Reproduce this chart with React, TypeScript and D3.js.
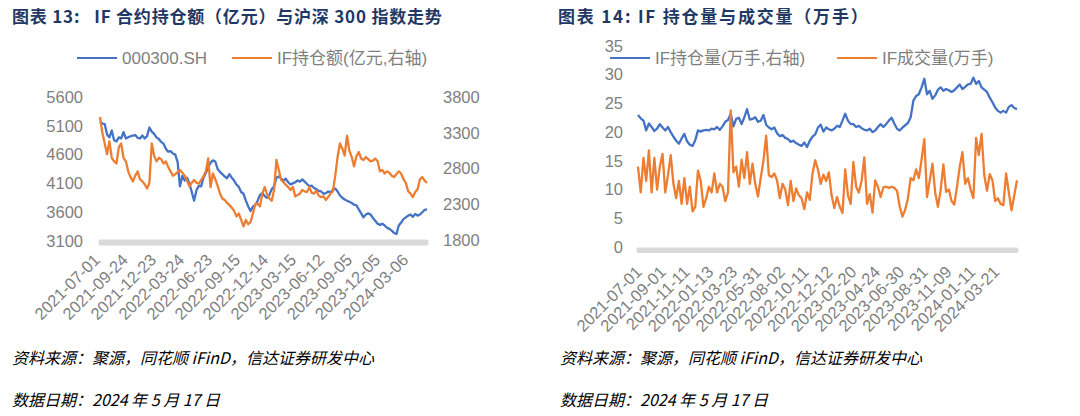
import React from 'react';
import * as d3 from 'd3';

// ---------- DATA ----------
// Chart 13: CSI 300 index (left axis) and IF open-interest value (亿元, right axis), sampled evenly over 2021-07-01 .. 2024-05-17
const hs300: number[] = [
  5170, 5140, 5130, 4950, 4900, 5020, 4850, 4830, 4900, 4880,
  4990, 4880, 4900, 4920, 4930, 4940, 4890, 4880, 4930, 4880,
  4920, 5070, 5000, 4960, 4900, 4870, 4820, 4790, 4700, 4650,
  4660, 4620, 4600, 4470, 4050, 4230, 4150, 4200, 4100, 3950,
  3800, 3980, 4060, 4050, 4200, 4280, 4380, 4460, 4500, 4480,
  4350, 4300, 4260, 4220, 4190, 4260, 4200, 4150, 4080, 4040,
  3950, 3920, 3800, 3700, 3620, 3700, 3720, 3800, 3900, 3930,
  3880, 3850, 3900, 4000, 4050, 4200, 4220, 4180, 4150, 4180,
  4120, 4080, 4100, 4120, 4150, 4130, 4170, 4130, 4090, 4050,
  4060, 4020, 4000, 3970, 3960, 3920, 3930, 3960, 3940, 3990,
  4010, 3960, 3890, 3850, 3820, 3800, 3780, 3760, 3730, 3720,
  3650, 3580, 3510, 3560, 3580, 3560, 3500, 3450, 3400, 3380,
  3400, 3370, 3330, 3310, 3280, 3240, 3220, 3370, 3420, 3480,
  3510, 3540, 3560, 3520, 3570, 3540, 3560, 3600, 3640, 3650,
];
const ifOiValue: number[] = [
  3520, 3300, 3150, 3000, 3180, 2950, 2900, 2870, 3100, 3150,
  2950, 2900, 2760, 2680, 2620, 2700, 2760, 2650, 2620, 2580,
  2520, 2600, 3150, 2980, 2900, 2950, 2930, 2870, 2900, 2820,
  2760, 2700, 2720, 2750, 2780, 2740, 2700, 2630, 2550, 2600,
  2640, 2600, 2590, 2640, 2690, 2760, 2940, 2540, 2730, 2650,
  2560, 2450, 2380, 2360, 2320, 2290, 2250, 2210, 2130, 2170,
  2080, 1990, 2080, 2020, 2050, 2170, 2300, 2310, 2270, 2450,
  2540, 2440, 2380, 2350, 2500, 2920, 2780, 2640, 2610, 2570,
  2540, 2500, 2540, 2410, 2430, 2450, 2500, 2480, 2470, 2540,
  2460, 2450, 2490, 2420, 2400, 2410, 2360, 2400, 2450, 2480,
  2700, 2960, 3150, 3080, 2980, 3260, 3050, 2960, 2830, 2970,
  3030, 2940, 2920, 2960, 2930, 2900, 2910, 2940, 2900, 2760,
  2780, 2730, 2760, 2740, 2700, 2680, 2720, 2760, 2730, 2650,
  2600, 2480, 2450, 2400, 2470, 2510, 2650, 2680, 2630, 2600,
];
// Chart 14: IF open interest and volume (万手)
const ifOi: number[] = [
  23.0, 22.4, 22.0, 20.3, 21.5, 20.9, 20.2, 20.6, 21.4, 20.8,
  20.3, 20.9, 20.0, 19.2, 18.5, 18.0, 18.9, 19.7, 18.4, 17.8,
  17.6, 18.6, 20.3, 20.1, 20.3, 20.4, 20.3, 20.6, 20.5, 20.9,
  20.4, 21.0, 21.8, 22.1, 23.2, 21.0, 22.3, 22.5, 21.4, 22.6,
  24.0, 22.2, 22.3, 22.6, 21.8, 22.0, 23.0, 21.3, 20.8, 20.5,
  20.8, 19.8, 19.3, 19.5, 19.0, 18.8, 18.3, 18.5, 18.1, 17.8,
  17.6, 18.2, 17.4, 18.5, 19.2, 19.6, 20.8, 21.3, 20.1, 20.8,
  20.5, 20.3, 20.6, 21.1, 20.9, 22.0, 23.2, 22.0, 21.4, 21.4,
  20.9, 21.1, 20.7, 20.4, 20.3, 20.6, 20.0, 20.3, 20.9, 21.4,
  20.9, 21.4, 22.0, 22.5, 21.5, 20.6, 20.3, 20.8, 21.2, 21.6,
  22.6, 25.5, 26.3, 26.6, 27.8, 29.3, 26.6, 27.2, 25.8, 26.4,
  27.4, 27.8, 27.2, 27.5, 27.3, 27.0, 27.3, 27.8, 28.3, 27.5,
  27.9, 28.3, 28.4, 29.5, 28.4, 28.9, 27.8, 27.4, 27.0, 26.0,
  25.2, 24.3, 23.7, 23.4, 23.7, 23.4, 24.4, 24.7, 24.2, 24.0,
];
const ifVolume: number[] = [
  14.0, 9.5, 15.5, 11.5, 16.8, 9.5, 15.5, 10.0, 14.0, 16.2,
  9.5, 12.5, 16.0, 11.0, 8.5, 11.5, 7.5, 12.0, 7.5, 10.5,
  6.2, 7.0, 13.3, 11.5, 7.0, 8.5, 10.5, 9.5, 12.8, 9.5,
  11.0, 10.5, 8.0, 9.5, 23.8, 13.0, 14.0, 10.5, 15.2, 12.0,
  16.5, 11.0, 14.5, 11.0, 8.8, 12.0, 15.0, 19.4, 12.5, 12.2,
  12.8, 11.6, 8.5, 11.0, 10.0, 7.3, 11.5, 8.0, 10.2, 9.0,
  8.5, 6.6, 9.5, 8.2, 12.8, 15.1, 13.5, 11.0, 12.6, 11.5,
  13.0, 9.0, 6.8, 8.7, 7.0, 5.9, 13.5, 9.0, 7.5, 14.8,
  10.5, 9.5, 11.5, 15.6, 7.5, 9.2, 6.0, 11.6, 10.5, 8.7,
  10.4, 10.5, 10.3, 10.5, 10.3, 9.8, 7.0, 5.3, 6.5, 8.5,
  12.0, 11.6, 13.5, 12.0, 15.2, 18.8, 8.7, 11.6, 14.5, 9.5,
  7.0, 9.9, 14.4, 9.6, 10.0, 8.0, 7.4, 10.5, 14.0, 16.5,
  11.0, 12.0, 10.0, 8.5, 19.0, 16.0, 19.7, 12.5, 9.8, 12.7,
  11.6, 8.0, 8.5, 7.5, 7.3, 12.8, 9.5, 6.4, 9.0, 11.6,
];

const chart1Dates: string[] = [
  '2021-07-01', '2021-09-24', '2021-12-23', '2022-03-24', '2022-06-23', '2022-09-15',
  '2022-12-14', '2023-03-15', '2023-06-12', '2023-09-05', '2023-12-05', '2024-03-06',
];
const chart2Dates: string[] = [
  '2021-07-01', '2021-09-01', '2021-11-11', '2022-01-13', '2022-03-23', '2022-05-31',
  '2022-08-02', '2022-10-11', '2022-12-12', '2023-02-20', '2023-04-24', '2023-06-30',
  '2023-08-31', '2023-11-09', '2024-01-11', '2024-03-21',
];
const chart1Left: number[] = [3100, 3600, 4100, 4600, 5100, 5600];
const chart1Right: number[] = [1800, 2300, 2800, 3300, 3800];
const chart2Left: number[] = [0, 5, 10, 15, 20, 25, 30, 35];

const TOTAL_DAYS = 700; // trading days covered
const chart1TickStep = 60; // trading days between labels
const chart2TickStep = 44;

// ---------- STYLE ----------
const BLUE = '#4472C4';
const ORANGE = '#ED7D31';
const AXIS_TEXT = '#7F7F7F';
const TITLE = '#1F3864';
const BAND = '#D9D9D9';
const LATIN = "'Liberation Sans', Arial, 'Noto Sans CJK SC', sans-serif";
const CJK = "'Noto Sans CJK SC', 'Liberation Sans', sans-serif";
const NB = '\u00A0';

const dayOf = (i: number, n: number) => (i * TOTAL_DAYS) / (n - 1);

function linePath(values: number[], x: d3.ScaleLinear<number, number>, y: d3.ScaleLinear<number, number>) {
  const gen = d3
    .line<number>()
    .x((_, i) => x(dayOf(i, values.length)))
    .y((v) => y(v));
  return gen(values) || '';
}

function Legend({ x, y, items }: { x: number[]; y: number; items: { label: string; color: string }[] }) {
  return (
    <g>
      {items.map((it, k) => (
        <g key={k}>
          <line x1={x[k]} x2={x[k] + 40} y1={y} y2={y} stroke={it.color} strokeWidth={2} />
          <text x={x[k] + 45} y={y} dy="0.35em" fontSize={17} fill={AXIS_TEXT} fontFamily={LATIN}>
            {it.label}
          </text>
        </g>
      ))}
    </g>
  );
}

function Footer({ x }: { x: number }) {
  return (
    <g fontFamily={CJK} fontStyle="italic" fill="#000" fontSize={16}>
      <text x={x} y={358} dy="0.35em">资料来源：聚源，同花顺 iFinD，信达证券研发中心</text>
      <text x={x} y={400} dy="0.35em">数据日期：2024 年 5 月 17 日</text>
    </g>
  );
}

function Chart13() {
  const x = d3.scaleLinear().domain([0, TOTAL_DAYS]).range([100, 427]);
  const yL = d3.scaleLinear().domain([3100, 5600]).range([241, 97]);
  const yR = d3.scaleLinear().domain([1800, 3800]).range([240, 97]);
  const base = yL(3100);
  return (
    <g>
      <text x={12} y={17} dy="0.35em" fontFamily={CJK} fontWeight="bold" fontSize={17} letterSpacing={0.8} fill={TITLE}>
        {`图表 13:${NB}${NB}${NB}IF 合约持仓额（亿元）与沪深 300 指数走势`}
      </text>
      <Legend
        x={[77, 232]}
        y={58}
        items={[
          { label: '000300.SH', color: BLUE },
          { label: 'IF持仓额(亿元,右轴)', color: ORANGE },
        ]}
      />
      {chart1Left.map((v) => (
        <text key={v} x={83} y={yL(v)} dy="0.35em" textAnchor="end" fontSize={16.5} fill={AXIS_TEXT} fontFamily={LATIN}>
          {v}
        </text>
      ))}
      {chart1Right.map((v) => (
        <text key={v} x={443} y={yR(v)} dy="0.35em" textAnchor="start" fontSize={16.5} fill={AXIS_TEXT} fontFamily={LATIN}>
          {v}
        </text>
      ))}
      <rect x={x(0) - 1.5} y={base - 1.5} width={x(TOTAL_DAYS) - x(0) + 3} height={6} rx={2} fill={BAND} />
      <path d={linePath(hs300, x, yL)} fill="none" stroke={BLUE} strokeWidth={2.3} strokeLinejoin="round" />
      <path d={linePath(ifOiValue, x, yR)} fill="none" stroke={ORANGE} strokeWidth={2.3} strokeLinejoin="round" />
      {chart1Dates.map((d, k) => {
        const tx = x(k * chart1TickStep) - 3;
        const ty = base + 16;
        return (
          <text key={d} x={tx} y={ty} dy="0.35em" textAnchor="end" transform={`rotate(-45 ${tx} ${ty})`} fontSize={16.5} fill={AXIS_TEXT} fontFamily={LATIN}>
            {d}
          </text>
        );
      })}
      <Footer x={12} />
    </g>
  );
}

function Chart14() {
  const x = d3.scaleLinear().domain([0, TOTAL_DAYS]).range([638, 1017]);
  const y = d3.scaleLinear().domain([0, 35]).range([247, 46]);
  const base = y(0);
  return (
    <g>
      <text x={558} y={17} dy="0.35em" fontFamily={CJK} fontWeight="bold" fontSize={17} letterSpacing={1.8} fill={TITLE}>
        {`图表 14:${NB}IF 持仓量与成交量（万手）`}
      </text>
      {chart2Left.map((v) => (
        <text key={v} x={623} y={y(v)} dy="0.35em" textAnchor="end" fontSize={16.5} fill={AXIS_TEXT} fontFamily={LATIN}>
          {v}
        </text>
      ))}
      <Legend
        x={[610, 837]}
        y={58}
        items={[
          { label: 'IF持仓量(万手,右轴)', color: BLUE },
          { label: 'IF成交量(万手)', color: ORANGE },
        ]}
      />
      <rect x={x(0) - 1.5} y={base + 0.5} width={x(TOTAL_DAYS) - x(0) + 3} height={5.5} rx={2} fill={BAND} />
      <path d={linePath(ifOi, x, y)} fill="none" stroke={BLUE} strokeWidth={2.3} strokeLinejoin="round" />
      <path d={linePath(ifVolume, x, y)} fill="none" stroke={ORANGE} strokeWidth={2.3} strokeLinejoin="round" />
      {chart2Dates.map((d, k) => {
        const tx = x(k * chart2TickStep) + 1;
        const ty = base + 22;
        return (
          <text key={d} x={tx} y={ty} dy="0.35em" textAnchor="end" transform={`rotate(-45 ${tx} ${ty})`} fontSize={16.5} fill={AXIS_TEXT} fontFamily={LATIN}>
            {d}
          </text>
        );
      })}
      <Footer x={560} />
    </g>
  );
}

export default function App() {
  return (
    <svg
      width={1080}
      height={416}
      viewBox="0 0 1080 416"
      style={{ position: 'absolute', left: 0, top: 0, background: '#fff', display: 'block' }}
    >
      <rect width={1080} height={416} fill="#fff" />
      <Chart13 />
      <Chart14 />
    </svg>
  );
}
